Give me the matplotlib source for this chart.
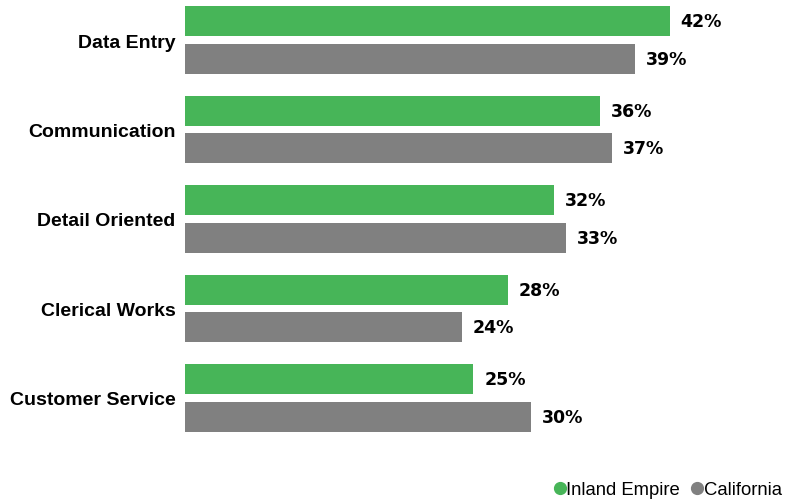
import numpy as np
import matplotlib
matplotlib.use('Agg')
import matplotlib.pyplot as plt
from matplotlib.lines import Line2D

skills = ['Data Entry', 'Communication', 'Detail Oriented', 'Clerical Works', 'Customer Service']
inland = [42, 36, 32, 28, 25]
california = [39, 37, 33, 24, 30]

green = '#47b558'
grey = '#808080'

fig = plt.figure(figsize=(7.89, 5.02), dpi=100)
W, H = 789, 502
ax = fig.add_axes([185 / W, (H - 433) / H, 600 / W, 426 / H])

y = np.arange(len(skills))
h = 0.335
off = 0.212
ax.barh(y - off, inland, height=h, color=green)
ax.barh(y + off, california, height=h, color=grey)

for i in range(len(skills)):
    ax.text(inland[i] + 0.95, y[i] - off, f'{inland[i]}%', va='center', ha='left',
            fontsize=12.5, fontweight='bold', family='DejaVu Sans')
    ax.text(california[i] + 0.95, y[i] + off, f'{california[i]}%', va='center', ha='left',
            fontsize=12.5, fontweight='bold', family='DejaVu Sans')

ax.set_xlim(0, 52)
ax.set_ylim(len(skills) - 1 + 0.38, -0.38)
ax.set_yticks(y)
ax.set_yticklabels(skills, fontsize=14, fontweight='bold', family='Liberation Sans')
ax.tick_params(axis='y', length=0, pad=7)
ax.set_xticks([])
for s in ax.spines.values():
    s.set_visible(False)

handles = [Line2D([], [], marker='o', ls='', color=green, markersize=8.5),
           Line2D([], [], marker='o', ls='', color=grey, markersize=8.5)]
fig.legend(handles, ['Inland Empire', 'California'], loc='lower right',
           bbox_to_anchor=(1.012, -0.028), ncol=2, frameon=False, handletextpad=-0.15,
           columnspacing=0.45, handlelength=1.0,
           prop={'family': 'Liberation Sans', 'size': 13.3})

fig.savefig('out.png', dpi=100)
